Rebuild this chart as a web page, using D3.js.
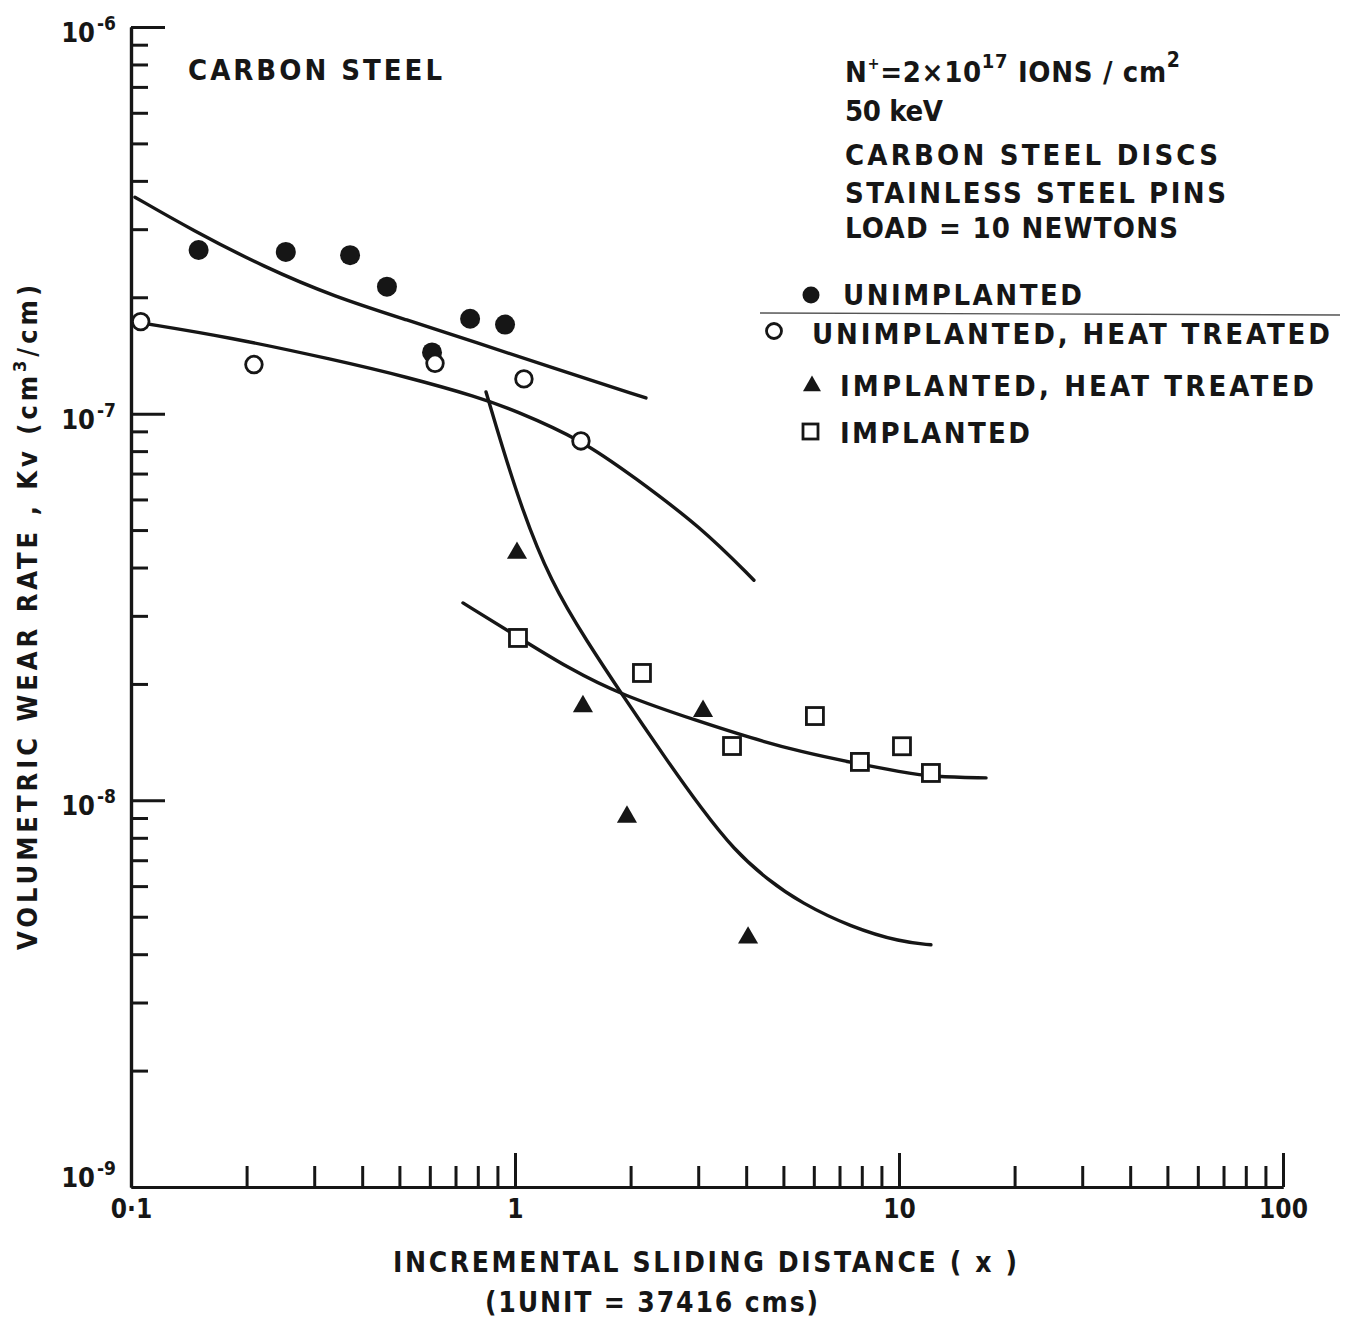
<!DOCTYPE html>
<html>
<head>
<meta charset="utf-8">
<script src="https://cdn.jsdelivr.net/npm/d3@7"></script>
<style>
  body { margin: 0; background: #fff; }
  svg text { font-family: "DejaVu Sans Condensed", "DejaVu Sans", sans-serif; font-weight: bold; fill: #161616; }
</style>
</head>
<body>
<svg id="chart" width="1347" height="1322"></svg>
<script>
// measured points, x = incremental sliding distance, y = Kv
var unimplX = [0.150, 0.253, 0.372, 0.464, 0.608, 0.764, 0.942];
var unimplY = [2.65e-7, 2.62e-7, 2.57e-7, 2.13e-7, 1.44e-7, 1.76e-7, 1.70e-7];

var unimplHtX = [0.106, 0.209, 0.619, 1.055, 1.485];
var unimplHtY = [1.73e-7, 1.34e-7, 1.35e-7, 1.23e-7, 8.50e-8];

var implHtX = [1.012, 1.503, 1.957, 3.088, 4.045];
var implHtY = [4.36e-8, 1.75e-8, 9.06e-9, 1.70e-8, 4.41e-9];

var implX = [1.018, 2.141, 3.674, 6.04, 7.91, 10.18, 12.11];
var implY = [2.63e-8, 2.135e-8, 1.382e-8, 1.652e-8, 1.257e-8, 1.38e-8, 1.177e-8];

// hand drawn trend curves
var curve1X = [0.1024, 0.1442, 0.2221, 0.340, 0.5233, 0.8007, 1.234, 2.193];
var curve1Y = [3.63e-7, 2.985e-7, 2.394e-7, 2.003e-7, 1.747e-7, 1.523e-7, 1.320e-7, 1.098e-7];

var curve2X = [0.1068, 0.1789, 0.340, 0.5233, 0.8007, 0.994, 1.494, 2.04, 3.05, 4.19];
var curve2Y = [1.716e-7, 1.579e-7, 1.377e-7, 1.244e-7, 1.104e-7, 1.022e-7, 8.55e-8, 6.86e-8, 5.09e-8, 3.71e-8];

var curve3X = [0.8405, 1.018, 1.241, 1.549, 1.888, 2.503, 3.05, 3.718, 4.56, 5.556, 7.50, 10.12, 12.11];
var curve3Y = [1.138e-7, 5.98e-8, 3.65e-8, 2.553e-8, 1.895e-8, 1.257e-8, 9.555e-9, 7.44e-9, 6.22e-9, 5.43e-9, 4.70e-9, 4.30e-9, 4.23e-9];

var curve4X = [0.732, 1.018, 1.374, 1.888, 3.05, 4.118, 5.556, 7.635, 10.12, 12.33, 16.85];
var curve4Y = [3.24e-8, 2.645e-8, 2.199e-8, 1.873e-8, 1.594e-8, 1.449e-8, 1.334e-8, 1.249e-8, 1.184e-8, 1.149e-8, 1.143e-8];

var xTickVals = [0.1, 1, 10, 100];
var xTickLabels = ["0\u00b71", "1", "10", "100"];
var yTickVals = [1e-6, 1e-7, 1e-8, 1e-9];
var yTickExp = ["-6", "-7", "-8", "-9"];

var legendLabels = ["UNIMPLANTED", "UNIMPLANTED, HEAT TREATED", "IMPLANTED, HEAT TREATED", "IMPLANTED"];
var noteLines = ["50 keV", "CARBON  STEEL  DISCS", "STAINLESS  STEEL  PINS", "LOAD  =  10  NEWTONS"];

var svg = d3.select("#chart");
var ink = "#161616";

var x = d3.scaleLog().domain([0.1, 100]).range([131, 1283]);
var y = d3.scaleLog().domain([1e-9, 1e-6]).range([1187, 27]);

function zip(a, b) {
    return a.map(function (v, i) { return [v, b[i]]; });
}

// ---- axes ----
var minorX = x.ticks().filter(function (v) { return xTickVals.indexOf(v) < 0; });
var minorY = y.ticks().filter(function (v) { return yTickVals.indexOf(v) < 0; });

var gx = svg.append("g").attr("transform", "translate(0,1187)");
gx.call(d3.axisBottom(x).tickValues(minorX).tickSizeInner(-21).tickSizeOuter(0).tickFormat(""));
var gx2 = svg.append("g").attr("transform", "translate(0,1187)");
gx2.call(d3.axisBottom(x).tickValues(xTickVals).tickSizeInner(-34).tickSizeOuter(0).tickPadding(13)
    .tickFormat(function (d, i) { return xTickLabels[i]; }));
gx2.selectAll(".tick").filter(function (d) { return d === 0.1; }).select("line").remove();

var gy = svg.append("g").attr("transform", "translate(131,0)");
gy.call(d3.axisLeft(y).tickValues(minorY).tickSizeInner(-17).tickSizeOuter(0).tickFormat(""));
var gy2 = svg.append("g").attr("transform", "translate(131,0)");
gy2.call(d3.axisLeft(y).tickValues(yTickVals).tickSizeInner(-34).tickSizeOuter(0).tickFormat(""));
gy2.selectAll(".tick").filter(function (d) { return d === 1e-9; }).select("line").remove();

svg.selectAll(".domain").attr("stroke", ink).attr("stroke-width", 3.2);
svg.selectAll(".tick line").attr("stroke", ink).attr("stroke-width", 3);
gx2.selectAll(".tick text").attr("font-size", 26).attr("fill", ink);

// y tick labels 10^n
yTickVals.forEach(function (v, i) {
    var base = y(v) + (i === 3 ? 0 : 15);
    svg.append("text").attr("x", 95).attr("y", base)
        .attr("text-anchor", "end").attr("font-size", 27).text("10");
    svg.append("text").attr("x", 97).attr("y", base - 12)
        .attr("font-size", 19).text(yTickExp[i]);
});

// ---- curves ----
var line = d3.line()
    .x(function (d) { return x(d[0]); })
    .y(function (d) { return y(d[1]); })
    .curve(d3.curveBasis);

[[curve1X, curve1Y], [curve2X, curve2Y], [curve3X, curve3Y], [curve4X, curve4Y]].forEach(function (c) {
    svg.append("path").datum(zip(c[0], c[1]))
        .attr("d", line)
        .attr("fill", "none").attr("stroke", ink)
        .attr("stroke-width", 3.4).attr("stroke-linecap", "round");
});

// ---- markers ----
svg.append("g").selectAll("circle").data(zip(unimplX, unimplY)).join("circle")
    .attr("cx", function (d) { return x(d[0]); })
    .attr("cy", function (d) { return y(d[1]); })
    .attr("r", 10).attr("fill", ink);

svg.append("g").selectAll("circle").data(zip(unimplHtX, unimplHtY)).join("circle")
    .attr("cx", function (d) { return x(d[0]); })
    .attr("cy", function (d) { return y(d[1]); })
    .attr("r", 8.3).attr("fill", "#fff").attr("stroke", ink).attr("stroke-width", 2.8);

var tri = d3.symbol().type(d3.symbolTriangle).size(175);
svg.append("g").selectAll("path").data(zip(implHtX, implHtY)).join("path")
    .attr("transform", function (d) { return "translate(" + x(d[0]) + "," + y(d[1]) + ")"; })
    .attr("d", tri).attr("fill", ink);

svg.append("g").selectAll("rect").data(zip(implX, implY)).join("rect")
    .attr("x", function (d) { return x(d[0]) - 8.5; })
    .attr("y", function (d) { return y(d[1]) - 8.5; })
    .attr("width", 17).attr("height", 17)
    .attr("fill", "#fff").attr("stroke", ink).attr("stroke-width", 2.8);

// ---- texts ----
svg.append("text").attr("x", 188).attr("y", 80).attr("font-size", 29)
    .attr("textLength", 254).attr("lengthAdjust", "spacing").text("CARBON  STEEL");

var n1 = svg.append("text").attr("x", 845).attr("y", 82).attr("font-size", 29)
    .attr("textLength", 335).attr("lengthAdjust", "spacing");
n1.append("tspan").text("N");
n1.append("tspan").attr("font-size", 16).attr("dy", -13).text("+");
n1.append("tspan").attr("dy", 13).text("=2\u00d710");
n1.append("tspan").attr("font-size", 20).attr("dy", -14).text("17");
n1.append("tspan").attr("dy", 14).text("  IONS / cm");
n1.append("tspan").attr("font-size", 21).attr("dy", -15).text("2");

var noteY = [121, 165, 203, 238];
var noteW = [98, 373, 381, 333];
noteLines.forEach(function (s, i) {
    svg.append("text").attr("x", 845).attr("y", noteY[i]).attr("font-size", 29)
        .attr("textLength", noteW[i]).attr("lengthAdjust", "spacing").text(s);
});

// legend
var legX = [843, 812, 840, 840];
var legY = [305, 344, 396, 443];
var legW = [239, 518, 474, 190];
legendLabels.forEach(function (s, i) {
    svg.append("text").attr("x", legX[i]).attr("y", legY[i]).attr("font-size", 29)
        .attr("textLength", legW[i]).attr("lengthAdjust", "spacing").text(s);
});
svg.append("circle").attr("cx", 811).attr("cy", 295).attr("r", 8.5).attr("fill", ink);
svg.append("circle").attr("cx", 774).attr("cy", 331).attr("r", 7.5).attr("fill", "#fff")
    .attr("stroke", ink).attr("stroke-width", 2.8);
svg.append("path").attr("transform", "translate(812,386)").attr("d", d3.symbol().type(d3.symbolTriangle).size(140)).attr("fill", ink);
svg.append("rect").attr("x", 803).attr("y", 424).attr("width", 15).attr("height", 15)
    .attr("fill", "#fff").attr("stroke", ink).attr("stroke-width", 2.8);
svg.append("line").attr("x1", 760).attr("x2", 1340).attr("y1", 313).attr("y2", 315)
    .attr("stroke", "#555").attr("stroke-width", 1.4);

// axis titles
svg.append("text").attr("x", 393).attr("y", 1272).attr("font-size", 28)
    .attr("textLength", 624).attr("lengthAdjust", "spacing")
    .text("INCREMENTAL  SLIDING  DISTANCE ( x )");
svg.append("text").attr("x", 485).attr("y", 1312).attr("font-size", 28)
    .attr("textLength", 333).attr("lengthAdjust", "spacing")
    .text("(1UNIT = 37416 cms)");

var yt = svg.append("text").attr("transform", "translate(37,950) rotate(-90)")
    .attr("font-size", 27).attr("textLength", 665).attr("lengthAdjust", "spacing");
yt.append("tspan").text("VOLUMETRIC  WEAR  RATE , Kv (cm");
yt.append("tspan").attr("font-size", 18).attr("dy", -11).text("3");
yt.append("tspan").attr("dy", 11).text("/cm)");
</script>
</body>
</html>
